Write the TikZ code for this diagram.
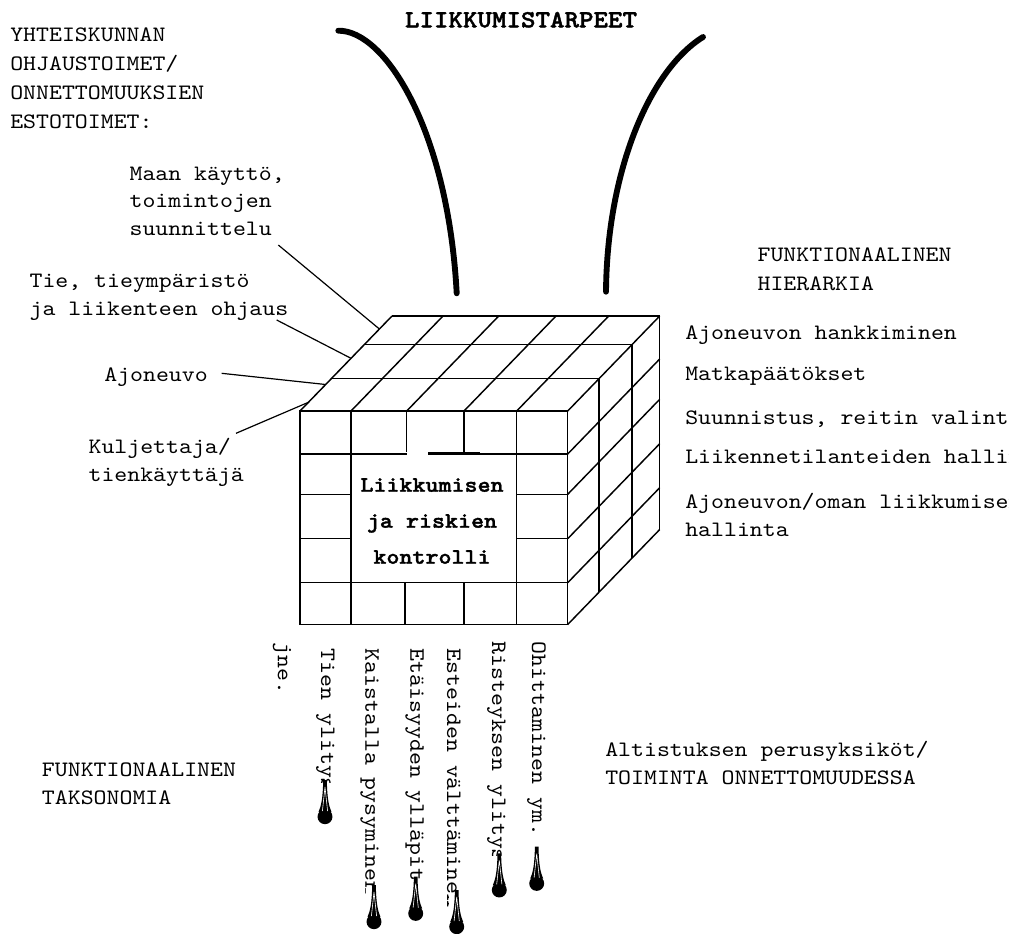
\documentclass[tikz,border=0pt]{standalone}
\usepackage{fontspec}
\newfontfamily\cour[FakeStretch=1.12]{lmmono10-regular.otf}
\newfontfamily\courb[FakeStretch=1.12,FakeBold=1.6]{lmmonolt10-bold.otf}
\begin{document}
\begin{tikzpicture}[x=0.75pt,y=-0.75pt,
  cubeline/.style={line width=1.1pt},
  lead/.style={line width=0.9pt},
  arcline/.style={line width=4.4pt, line cap=round},
  txt/.style={font=\cour\fontsize{16.5}{21.75}\selectfont, inner sep=0pt, align=left, anchor=base west},
  vtxt/.style={font=\cour\fontsize{16.5}{21.75}\selectfont, inner sep=0pt, rotate=-90, anchor=mid west},
  boldtxt/.style={font=\courb\fontsize{16.6}{27}\selectfont, inner sep=0pt, align=center, anchor=base},
  dropmark/.pic={
    \fill[white] (-8,3) rectangle (8,28);
    \fill (-1.8,0) -- (1.8,0) .. controls (2.2,20) and (4,26) .. (6.5,32) -- (-6.5,32) .. controls (-4,26) and (-2.2,20) .. cycle;
    \fill (0,36.7) circle[radius=5.6pt];
    \draw[white, line width=0.45pt] (0,7) -- (-2.6,31) (0,7) -- (2.6,31);
  }]
\useasboundingbox (0,0) rectangle (1009,933);
\clip (0,0) rectangle (1009,933);

% ---- cube ----
\begin{scope}[cubeline]
\draw (300,411) rectangle (567.7,624.5);
\draw (351,411) -- (351,624.5);
\draw (516.7,411) -- (516.7,624.5);
\draw (406.7,411) -- (406.7,451.7);
\draw (464,411) -- (464,454);
\draw (405,582.7) -- (405,624.5);
\draw (464,582.7) -- (464,624.5);
\draw (300,454) -- (406.7,454) (428,454) -- (567.7,454);
\foreach \y in {494.3,538.7} \draw (300,\y) -- (351,\y) (516.7,\y) -- (567.7,\y);
\draw (300,582.7) -- (567.7,582.7);
\draw[line width=2pt] (428,453.5) -- (480,453.5);
\foreach \t in {0.34,0.70,1} \draw (300+92*\t,411-95*\t) -- (567.7+92*\t,411-95*\t);
\foreach \x in {300,351,406.7,464,516.7,567.7} \draw (\x,411) -- ++(92,-95);
\foreach \t in {0.34,0.70,1} \draw (567.7+92*\t,411-95*\t) -- (567.7+92*\t,624.5-95*\t);
\foreach \y in {454,494.3,538.7,582.7,624.5} \draw (567.7,\y) -- ++(92,-95);
\end{scope}

\node[boldtxt] (ctrl) at (432,563.7) {Liikkumisen\\ ja riskien\\kontrolli};

% ---- arcs ----
\coordinate (arcLa) at (338.3,30.7);
\coordinate (arcLb) at (456.7,293.3);
\coordinate (arcRa) at (606,291.7);
\coordinate (arcRb) at (703,37);
\draw[arcline] (arcLa) .. controls (385,30) and (448,130) .. (arcLb);
\draw[arcline] (arcRa) .. controls (607,170) and (650,70) .. (arcRb);
\node[font=\courb\fontsize{18.5}{22}\selectfont, inner sep=0pt, anchor=base] (title) at (521,27.3) {LIIKKUMISTARPEET};

% ---- left labels ----
\node[txt] (ohj) at (10,128.7) {YHTEISKUNNAN\\OHJAUSTOIMET/\\ONNETTOMUUKSIEN\\ESTOTOIMET:};
\node[txt, font=\cour\fontsize{16.5}{20.6}\selectfont] (maan) at (129.3,235) {Maan käyttö,\\toimintojen\\suunnittelu};
\node[txt, font=\cour\fontsize{16.5}{20.8}\selectfont] (tie) at (29.3,315) {Tie, tieympäristö\\ja liikenteen ohjaus};
\node[txt] (ajo) at (104,381.7) {Ajoneuvo};
\node[txt, font=\cour\fontsize{16.5}{20.8}\selectfont] (kul) at (88.3,481) {Kuljettaja/\\tienkäyttäjä};

\coordinate (maanS) at (278.3,245);
\coordinate (maanE) at (379.4,329);
\coordinate (tieS) at (276.7,320);
\coordinate (tieE) at (351,358.3);
\coordinate (ajoS) at (221.7,373.3);
\coordinate (ajoE) at (325.7,384.5);
\coordinate (kulS) at (236,433.3);
\coordinate (kulE) at (308.4,402.3);
\draw[lead] (maanS) -- (maanE);
\draw[lead] (tieS) -- (tieE);
\draw[lead] (ajoS) -- (ajoE);
\draw[lead] (kulS) -- (kulE);

% ---- right labels ----
\node[txt, font=\cour\fontsize{16.5}{21.2}\selectfont] (hier) at (757.3,290) {FUNKTIONAALINEN\\HIERARKIA};
\node[txt] (h1) at (685,339.3) {Ajoneuvon hankkiminen};
\node[txt] (h2) at (685,380) {Matkapäätökset};
\node[txt] (h3) at (685,424.3) {Suunnistus, reitin valinta};
\node[txt] (h4) at (685,463.3) {Liikennetilanteiden hallinta};
\node[txt, font=\cour\fontsize{16.5}{20.8}\selectfont] (h5) at (685,536) {Ajoneuvon/oman liikkumisen\\hallinta};

% ---- bottom labels ----
\node[txt, font=\cour\fontsize{16.5}{21.2}\selectfont] (alt) at (605,784.3) {Altistuksen perusyksiköt/\\TOIMINTA ONNETTOMUUDESSA};
\node[txt, font=\cour\fontsize{16.5}{21.2}\selectfont] (tak) at (41.7,804.3) {FUNKTIONAALINEN\\TAKSONOMIA};

\node[vtxt] (v0) at (280.7,642.7) {jne.};
\node[vtxt] (v1) at (324,648.3) {Tien ylitys};
\node[vtxt] (v2) at (368.3,648.3) {Kaistalla pysyminen};
\node[vtxt] (v3) at (413.3,648.3) {Etäisyyden ylläpito};
\node[vtxt] (v4) at (450,648.3) {Esteiden välttäminen};
\node[vtxt] (v5) at (495,641.7) {Risteyksen ylitys};
\node[vtxt] (v6) at (535,641.7) {Ohittaminen ym.};

\pic at (325,780) {dropmark};
\pic at (374,885) {dropmark};
\pic at (415.7,876.7) {dropmark};
\pic at (456.7,890) {dropmark};
\pic at (499.3,853.3) {dropmark};
\pic at (536.7,846.7) {dropmark};
\end{tikzpicture}
\end{document}
